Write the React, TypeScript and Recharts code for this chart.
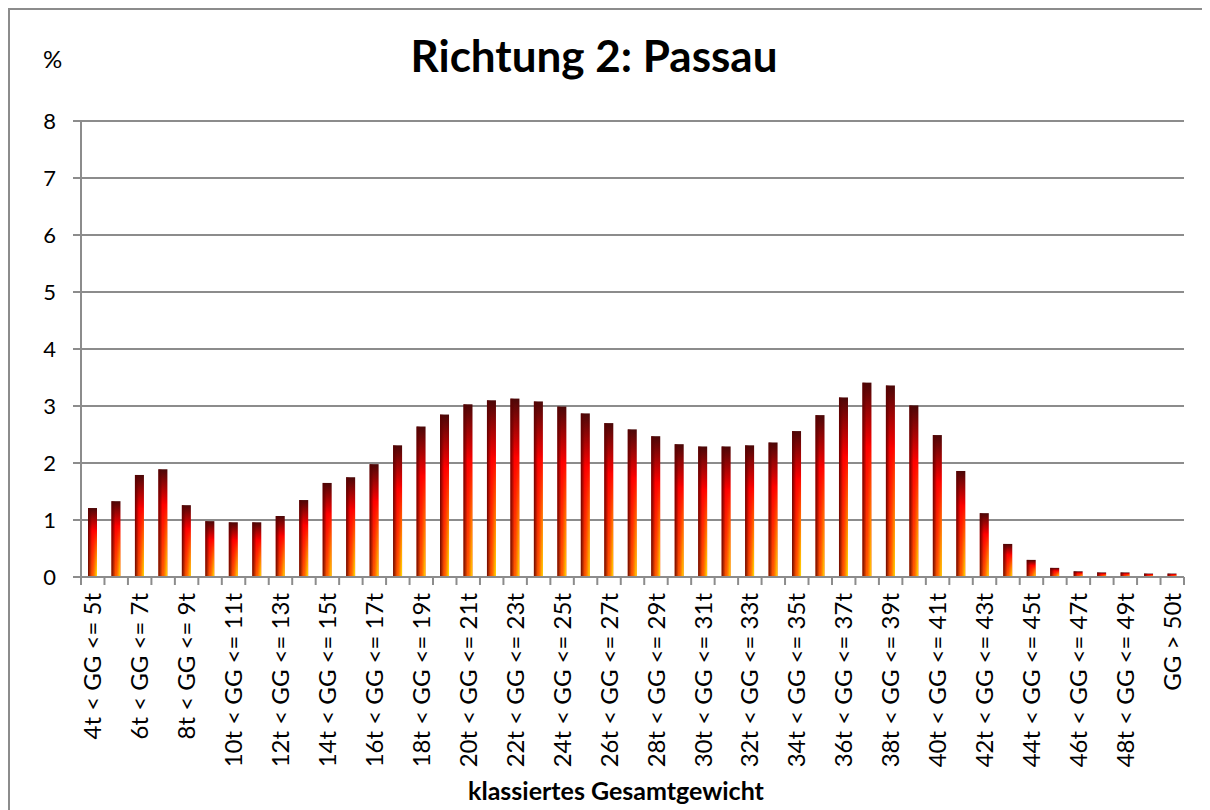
import React from 'react';
import { BarChart, Bar, XAxis, YAxis, CartesianGrid } from 'recharts';

const categories: string[] = [
  '4t < GG <= 5t', '5t < GG <= 6t', '6t < GG <= 7t', '7t < GG <= 8t', '8t < GG <= 9t',
  '9t < GG <= 10t', '10t < GG <= 11t', '11t < GG <= 12t', '12t < GG <= 13t', '13t < GG <= 14t',
  '14t < GG <= 15t', '15t < GG <= 16t', '16t < GG <= 17t', '17t < GG <= 18t', '18t < GG <= 19t',
  '19t < GG <= 20t', '20t < GG <= 21t', '21t < GG <= 22t', '22t < GG <= 23t', '23t < GG <= 24t',
  '24t < GG <= 25t', '25t < GG <= 26t', '26t < GG <= 27t', '27t < GG <= 28t', '28t < GG <= 29t',
  '29t < GG <= 30t', '30t < GG <= 31t', '31t < GG <= 32t', '32t < GG <= 33t', '33t < GG <= 34t',
  '34t < GG <= 35t', '35t < GG <= 36t', '36t < GG <= 37t', '37t < GG <= 38t', '38t < GG <= 39t',
  '39t < GG <= 40t', '40t < GG <= 41t', '41t < GG <= 42t', '42t < GG <= 43t', '43t < GG <= 44t',
  '44t < GG <= 45t', '45t < GG <= 46t', '46t < GG <= 47t', '47t < GG <= 48t', '48t < GG <= 49t',
  '49t < GG <= 50t', 'GG > 50t',
];

const shares: number[] = [
  1.21, 1.33, 1.79, 1.89, 1.26, 0.98, 0.96, 0.96, 1.07, 1.35,
  1.65, 1.75, 1.98, 2.31, 2.64, 2.85, 3.03, 3.10, 3.13, 3.08,
  2.99, 2.87, 2.70, 2.59, 2.47, 2.33, 2.29, 2.29, 2.31, 2.36,
  2.56, 2.84, 3.15, 3.41, 3.36, 3.01, 2.49, 1.86, 1.12, 0.58,
  0.30, 0.16, 0.10, 0.08, 0.08, 0.06, 0.06,
];

const yTicks: number[] = [0, 1, 2, 3, 4, 5, 6, 7, 8];

const title = 'Richtung 2: Passau';
const yUnit = '%';
const xTitle = 'klassiertes Gesamtgewicht';

const data = categories.map((c, i) => ({ cat: c, value: shares[i] }));

const W = 1202;
const H = 802;
const M = { top: 113, right: 26, left: 0, bottom: 0 };
const Y_W = 73;
const X_H = 233;
const STEP = (W - M.left - M.right - Y_W) / categories.length;
const GRID = '#8c8c8c';
const FONT = 'Lato, "Open Sans", sans-serif';

const XTick = (props: any) => {
  const { x, y, payload, index } = props;
  const i = typeof index === 'number' ? index : categories.indexOf(payload.value);
  const last = i === categories.length - 1;
  return (
    <g>
      <line x1={x - STEP / 2} x2={x - STEP / 2} y1={y} y2={y + 8} stroke={GRID} strokeWidth={2} />
      {last && <line x1={x + STEP / 2} x2={x + STEP / 2} y1={y} y2={y + 8} stroke={GRID} strokeWidth={2} />}
      {i % 2 === 0 && (
        <text
          transform={`translate(${x},${y + 16}) rotate(-90)`}
          textAnchor="end"
          dy="0.36em"
          fontSize={24}
          fontFamily={FONT}
          fill="#000"
        >
          {payload.value}
        </text>
      )}
    </g>
  );
};

const GradBar = (props: any) => {
  const { x, y, width, height } = props;
  if (!height || height <= 0) return null;
  return (
    <g>
      <rect x={x} y={y} width={width} height={height} fill="url(#gVert)" />
      <rect x={x} y={y} width={width} height={height} fill="url(#gLeft)" />
      <rect x={x} y={y} width={width} height={height} fill="url(#gRight)" mask="url(#mVert)" />
    </g>
  );
};

export default function App() {
  return (
    <div style={{ position: 'relative', width: W, height: H }}>
      <style>{'html{overflow:hidden;} #root{width:1202px;height:802px;}'}</style>
      <div style={{ position: 'absolute', left: 0, top: 0 }}>
        <BarChart width={W} height={H} data={data} margin={M} barCategoryGap={0}>
          <defs>
            <linearGradient id="gVert" x1="0" y1="0" x2="0" y2="1">
              <stop offset="0%" stopColor="#4a0808" />
              <stop offset="33%" stopColor="#ff0000" />
              <stop offset="100%" stopColor="#ff5a00" />
            </linearGradient>
            <linearGradient id="gLeft" x1="0" y1="0" x2="1" y2="0">
              <stop offset="0%" stopColor="#5a0000" stopOpacity={0.9} />
              <stop offset="45%" stopColor="#5a0000" stopOpacity={0} />
              <stop offset="100%" stopColor="#5a0000" stopOpacity={0} />
            </linearGradient>
            <linearGradient id="gRight" x1="0" y1="0" x2="1" y2="0">
              <stop offset="0%" stopColor="#ffdd00" stopOpacity={0} />
              <stop offset="50%" stopColor="#ffaa00" stopOpacity={0} />
              <stop offset="100%" stopColor="#ffee00" stopOpacity={1} />
            </linearGradient>
            <linearGradient id="gMask" x1="0" y1="0" x2="0" y2="1">
              <stop offset="0%" stopColor="#fff" stopOpacity={0} />
              <stop offset="30%" stopColor="#fff" stopOpacity={0} />
              <stop offset="100%" stopColor="#fff" stopOpacity={1} />
            </linearGradient>
            <mask id="mVert" maskContentUnits="objectBoundingBox">
              <rect x="0" y="0" width="1" height="1" fill="url(#gMask)" />
            </mask>
          </defs>
          <CartesianGrid vertical={false} stroke={GRID} strokeWidth={2} />
          <XAxis
            dataKey="cat"
            interval={0}
            height={X_H}
            tickLine={false}
            tickSize={0}
            tickMargin={0}
            tick={<XTick />}
            axisLine={{ stroke: GRID, strokeWidth: 2 }}
          />
          <YAxis
            width={Y_W}
            domain={[0, 8]}
            ticks={yTicks}
            interval={0}
            tickSize={8}
            tickMargin={17}
            tickLine={{ stroke: GRID, strokeWidth: 2 }}
            axisLine={{ stroke: GRID, strokeWidth: 2 }}
            tick={{ fontSize: 22, fontFamily: FONT, fill: '#000' }}
          />
          <Bar dataKey="value" barSize={9} shape={<GradBar />} isAnimationActive={false} />
        </BarChart>
      </div>
      <svg
        width={W}
        height={H}
        style={{ position: 'absolute', left: 0, top: 0, pointerEvents: 'none' }}
      >
        <line x1={1} y1={0} x2={1} y2={H} stroke={GRID} strokeWidth={2} />
        <line x1={0} y1={1} x2={W} y2={1} stroke={GRID} strokeWidth={2} />
        <text x={586} y={64} textAnchor="middle" fontSize={44} fontWeight={700} fontFamily={FONT} fill="#000">
          {title}
        </text>
        <text x={35} y={60} fontSize={24} fontFamily={FONT} fill="#000">
          {yUnit}
        </text>
        <text x={608} y={792} textAnchor="middle" fontSize={25} fontWeight={700} fontFamily={FONT} fill="#000">
          {xTitle}
        </text>
      </svg>
    </div>
  );
}
